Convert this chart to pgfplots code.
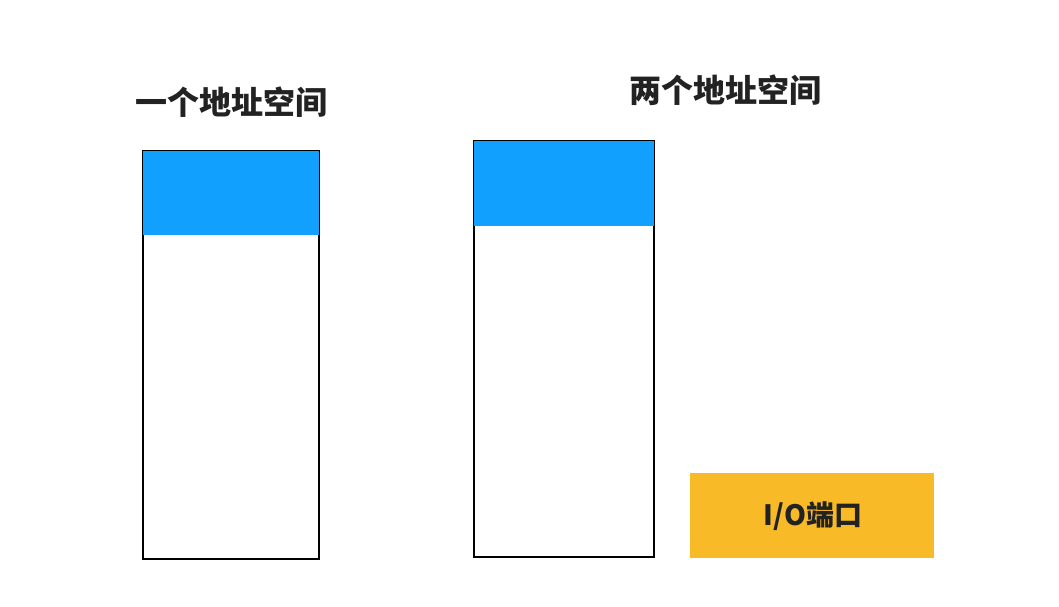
\documentclass[border=0pt]{standalone}
\usepackage{pgfplots}
\pgfplotsset{compat=1.18}
\usepackage{fontspec}
\setmainfont{Noto Sans CJK SC}
\newfontfamily\cjk{Noto Sans CJK SC}
\definecolor{cblue}{HTML}{12A0FF}
\definecolor{cyel}{HTML}{F8BA26}
\definecolor{ctxt}{HTML}{222222}
\begin{document}
\begin{tikzpicture}
\begin{axis}[width=1059pt,height=607pt,scale only axis,xmin=0,xmax=1059,ymin=0,ymax=607,hide axis,clip=false]
\addplot[fill=white,draw=none] coordinates {(0,0)(1059,0)(1059,607)(0,607)} --cycle;
\addplot[fill=white,draw=black,line width=1.2pt] coordinates {(143,48)(319,48)(319,456)(143,456)} --cycle;
\addplot[fill=cblue,draw=none] coordinates {(143,372)(319,372)(319,456)(143,456)} --cycle;
\addplot[fill=white,draw=black,line width=1.2pt] coordinates {(474,50)(654,50)(654,466)(474,466)} --cycle;
\addplot[fill=cblue,draw=none] coordinates {(474,381)(654,381)(654,466)(474,466)} --cycle;
\addplot[fill=cyel,draw=none] coordinates {(690,49)(934,49)(934,134)(690,134)} --cycle;
\node[text=ctxt,font=\cjk\bfseries\fontsize{32}{36}\selectfont] at (axis cs:231,505) {一个地址空间};
\node[text=ctxt,font=\cjk\bfseries\fontsize{32}{36}\selectfont] at (axis cs:725,517) {两个地址空间};
\node[text=ctxt,font=\cjk\bfseries\fontsize{28}{32}\selectfont] at (axis cs:813,91) {I/O端口};
\end{axis}
\end{tikzpicture}
\end{document}
